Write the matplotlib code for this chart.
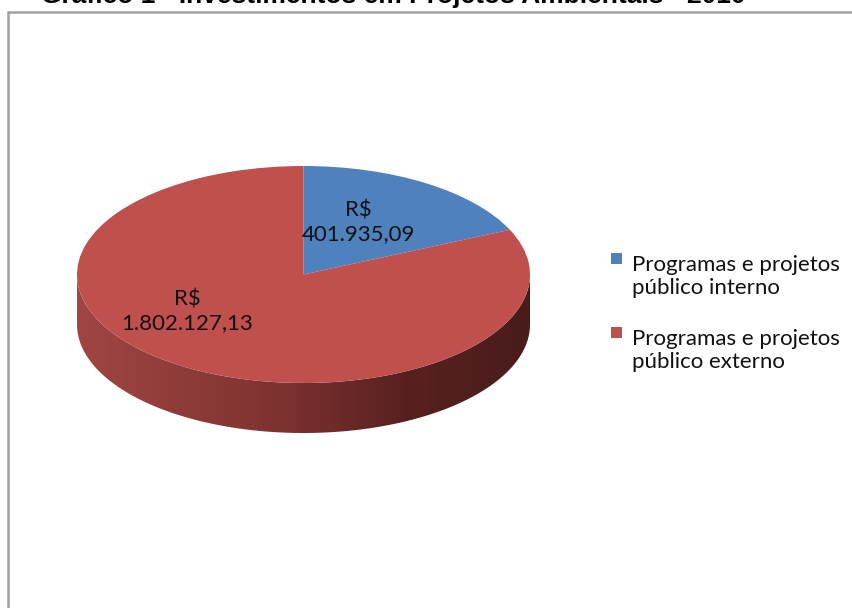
import numpy as np
import matplotlib
matplotlib.use("Agg")
import matplotlib.pyplot as plt
from matplotlib.patches import Rectangle, Polygon

# data
categories = ["Programas e projetos\npúblico interno", "Programas e projetos\npúblico externo"]
values = [401935.09, 1802127.13]
value_labels = ["R$\n401.935,09", "R$\n1.802.127,13"]
colors = ["#4F81BD", "#C0504D"]
title = "Gráfico 1 - Investimentos em Projetos Ambientais - 2010"

W, H = 853, 608
fig = plt.figure(figsize=(W / 100, H / 100), dpi=100)

def fx(px):
    return px / W

def fy(py):
    return 1 - py / H

# pie geometry in pixels: centre, radii, thickness of the side
cx, cy, a, b, depth = 303.5, 274.5, 226.5, 108.5, 50
d = depth / b

ax = fig.add_axes([0, 0, 1, 1])
wedges, _ = ax.pie(values, colors=colors, startangle=90, counterclock=False,
                   radius=1, wedgeprops=dict(linewidth=0))
for w in wedges:
    w.set_zorder(2)

# side of the 3D pie with a horizontal shading gradient
theta = np.linspace(np.pi, 2 * np.pi, 300)
top = np.column_stack([np.cos(theta), np.sin(theta)])
bot = np.column_stack([np.cos(theta[::-1]), np.sin(theta[::-1]) - d])
side = Polygon(np.vstack([top, bot]), closed=True, facecolor="none", edgecolor="none")
ax.add_patch(side)
stops_x = [-1.0, -0.1, 0.45, 1.0]
stops_c = np.array([[160, 70, 66], [125, 50, 48], [88, 33, 32], [72, 28, 27]]) / 255
gx = np.linspace(-1, 1, 400)
grad = np.stack([np.interp(gx, stops_x, stops_c[:, i]) for i in range(3)], axis=-1)[None, :, :]
im = ax.imshow(grad, extent=[-1, 1, -1 - d, 0], aspect="auto", zorder=1, interpolation="bilinear")
im.set_clip_path(side)

ax.set_aspect("auto")
ax.set_xlim(-cx / a, (W - cx) / a)
ax.set_ylim(-(H - cy) / b, cy / b)
ax.axis("off")

# value labels
label_pos = [(358, 222), (187, 311)]
for (px, py), txt in zip(label_pos, value_labels):
    fig.text(fx(px), fy(py), txt, ha="center", va="center", fontsize=16,
             family="Lato", linespacing=1.2, color="#111111")

# legend (square next to the first line, baseline given for the last line)
for i, (cat, col) in enumerate(zip(categories, colors)):
    y0 = 253 + i * 74
    fig.add_artist(Rectangle((fx(611), fy(y0 + 11)), 11 / W, 11 / H,
                             transform=fig.transFigure, facecolor=col, edgecolor="none"))
    fig.text(fx(632), fy(y0 + 41), cat, ha="left", va="baseline", fontsize=16,
             family="Lato", linespacing=1.2, color="#111111")

# chart frame
fig.add_artist(Rectangle((fx(8), -0.05), 1.1, fy(11.5) + 0.05, transform=fig.transFigure,
                         fill=False, edgecolor="#a0a0a0", linewidth=1.8))

# title (partly cut off at the top, as in the original)
fig.text(fx(41), fy(3.5), title, ha="left", va="baseline", fontsize=19,
         fontweight="bold", family="Liberation Sans")

fig.savefig("out.png", dpi=100)
